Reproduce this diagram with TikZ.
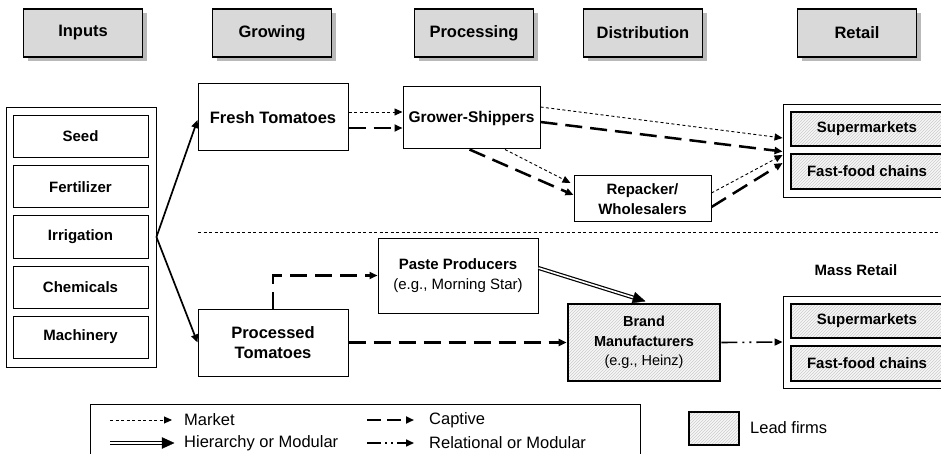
\documentclass[tikz,border=0pt]{standalone}
\usepackage{fontspec}
\setmainfont{Liberation Sans}
\usetikzlibrary{arrows.meta,patterns,shadows,calc}
\begin{document}
\begin{tikzpicture}[x=1pt,y=-1pt,
  >={Triangle[length=8pt,width=7pt]},
  hdr/.style={draw, line width=1.1pt, fill=gray!30, minimum width=119pt, minimum height=48pt, inner sep=0pt,
    font=\fontsize{16.5}{19}\selectfont\bfseries,
    drop shadow={shadow xshift=4pt, shadow yshift=-4pt, fill=gray!55, opacity=1}},
  box/.style={draw, line width=1pt, fill=white, align=center, inner sep=0pt,
    font=\fontsize{15}{20}\selectfont\bfseries},
  bigbox/.style={box, font=\fontsize{16.5}{20}\selectfont\bfseries},
  inbox/.style={box, minimum width=135pt, minimum height=42pt},
  cont/.style={draw, line width=0.9pt, fill=white, inner sep=0pt},
  lead/.style={draw, line width=2.6pt, preaction={fill=gray!6}, pattern=north east lines, pattern color=gray!40,
    align=center, inner sep=0pt, font=\fontsize{15}{20}\selectfont\bfseries},
  mkt/.style={->, line width=0.9pt, dash pattern=on 3pt off 2.5pt},
  captv/.style={->, line width=2.5pt, dash pattern=on 17pt off 8pt},
  hierline/.style={double, line width=1.2pt, double distance=1.6pt},
  headfill/.style={fill=black, draw=black, line width=0.4pt, line join=miter},
  relat/.style={->, line width=1.6pt, dash pattern=on 16pt off 5pt on 2pt off 5pt on 2pt off 5pt},
  solidarr/.style={->, line width=1.7pt},
  legtext/.style={anchor=west, inner sep=0pt, font=\fontsize{16.5}{19}\selectfont}
]
\useasboundingbox (0,0) rectangle (941,454);
\fill[white] (0,0) rectangle (941,454);

% headers
\node[hdr] (hin) at (83,33) {Inputs};
\node[hdr] (hgr) at (272,33) {Growing};
\node[hdr] (hpr) at (474,33) {Processing};
\node[hdr] (hdi) at (643,33) {Distribution};
\node[hdr] (hre) at (857,33) {Retail};

% inputs
\node[cont, minimum width=150pt, minimum height=260pt] (inputs) at (81,237) {};
\node[inbox] (seed) at (80.5,136.5) {Seed};
\node[inbox] (fert) at (80.5,187) {Fertilizer};
\node[inbox] (irr) at (80.5,237) {Irrigation};
\node[inbox] (chem) at (80.5,287) {Chemicals};
\node[inbox] (mach) at (80.5,337) {Machinery};

% fresh chain
\node[bigbox, minimum width=150pt, minimum height=67pt] (fresh) at (273,117.5) {Fresh Tomatoes};
\node[box, minimum width=137pt, minimum height=62pt, font=\fontsize{15.5}{20}\selectfont\bfseries] (grower) at (471.5,118) {Grower-Shippers};
\node[box, minimum width=137pt, minimum height=46pt] (repack) at (642.5,199) {Repacker/\\Wholesalers};
\node[cont, minimum width=170pt, minimum height=93pt] (rtop) at (868,150.5) {};
\node[lead, minimum width=152pt, minimum height=34pt] (smtop) at (867,129) {Supermarkets};
\node[lead, minimum width=152pt, minimum height=35pt] (fftop) at (867,171.5) {Fast-food chains};

% separator
\coordinate (s1) at (198,232);
\coordinate (s2) at (941,232);
\draw[line width=0.9pt, dash pattern=on 3pt off 2.5pt] (s1) -- (s2);

% processed chain
\node[box, minimum width=160pt, minimum height=75pt] (paste) at (458,275.5) {Paste Producers\\{\mdseries (e.g., Morning Star)}};
\node[bigbox, minimum width=150pt, minimum height=67pt] (proc) at (273,342.5) {Processed\\Tomatoes};
\node[lead, minimum width=152pt, minimum height=77pt, font=\fontsize{14.5}{19.5}\selectfont\bfseries] (brand) at (644,342.5) {Brand\\Manufacturers\\{\mdseries (e.g., Heinz)}};
\node[inner sep=0pt, font=\fontsize{15}{18}\selectfont\bfseries] (mass) at (856,270) {Mass Retail};
\node[cont, minimum width=170pt, minimum height=92pt] (rbot) at (868,342) {};
\node[lead, minimum width=152pt, minimum height=34pt] (smbot) at (867,321) {Supermarkets};
\node[lead, minimum width=152pt, minimum height=35pt] (ffbot) at (867,363.5) {Fast-food chains};

% connectors
\draw[solidarr] (inputs.east) -- ([yshift=-2.5pt]fresh.west);
\draw[solidarr] (inputs.east) -- (proc.west);
\draw[mkt] ([yshift=5.5pt]fresh.east) -- ([yshift=6pt]grower.west);
\draw[captv] ([yshift=-10.5pt]fresh.east) -- ([yshift=-10pt]grower.west);
\draw[mkt] ([yshift=11pt]grower.east) -- ([yshift=12.5pt]rtop.west);
\draw[captv] ([yshift=-4pt]grower.east) -- ([yshift=-1pt]rtop.west);
\draw[captv] ([xshift=-2pt]grower.south) -- ([yshift=4pt]repack.west);
\draw[mkt] ([xshift=33.5pt]grower.south) -- ([xshift=-3pt,yshift=16pt]repack.west);
\draw[mkt] ([yshift=6pt]repack.east) -- ([yshift=-4.5pt]rtop.west);
\draw[captv] ([yshift=-8pt]repack.east) -- ([yshift=-12.5pt]rtop.west);
\draw[captv] (proc.north) |- (paste.west);
\draw[captv] (proc.east) -- (brand.west);
\coordinate (pe) at ([yshift=7.5pt]paste.east);
\coordinate (bn) at ([xshift=1pt,yshift=1.5pt]brand.north);
\coordinate (hb) at ($(bn)!12pt!(pe)$);
\draw[hierline] (pe) -- ($(bn)!10pt!(pe)$);
\path[headfill] ($(hb)!5.5pt!90:(bn)$) -- (bn) -- ($(hb)!5.5pt!-90:(bn)$) -- cycle;
\draw[relat] (brand.east) -- (rbot.west);

% legend
\node[cont, minimum width=550pt, minimum height=70pt, anchor=north west] (legend) at (90,404) {};
\coordinate (m1) at (110,420); \coordinate (m2) at (172,420);
\coordinate (h1) at (110,443); \coordinate (h2) at (174,443);
\coordinate (ht) at (162,443);
\coordinate (c1) at (367,420); \coordinate (c2) at (414,420);
\coordinate (r1) at (367,443); \coordinate (r2) at (414,443);
\draw[mkt] (m1) -- (m2);
\draw[hierline] (h1) -- ($(h2)!10pt!(h1)$);
\path[headfill] ($(ht)!5.5pt!90:(h2)$) -- (h2) -- ($(ht)!5.5pt!-90:(h2)$) -- cycle;
\draw[->, line width=2pt, dash pattern=on 14pt off 6pt] (c1) -- (c2);
\draw[->, line width=1.6pt, dash pattern=on 14pt off 4pt on 2pt off 4pt on 2pt off 4pt] (r1) -- (r2);
\node[legtext] (tm) at (184,420) {Market};
\node[legtext] (th) at (184,443) {Hierarchy or Modular};
\node[legtext] (tc) at (429,420) {Captive};
\node[legtext] (tr) at (429,443) {Relational or Modular};
\node[lead, minimum width=50pt, minimum height=33pt] (leadbox) at (714,428.5) {};
\node[legtext] (tl) at (750,428) {Lead firms};
\end{tikzpicture}
\end{document}
